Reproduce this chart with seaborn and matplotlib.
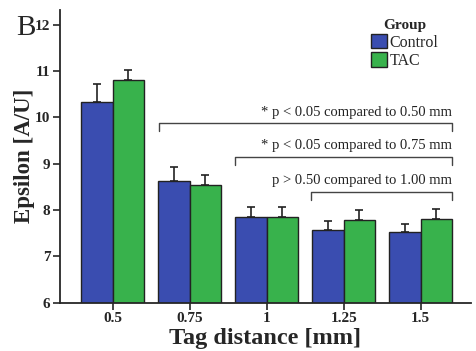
import numpy as np
import pandas as pd
import matplotlib
matplotlib.use('Agg')
import matplotlib.pyplot as plt
import seaborn as sns

# data
distances = ['0.5', '0.75', '1', '1.25', '1.5']
control_mean = [10.33, 8.63, 7.84, 7.57, 7.52]
control_err = [0.38, 0.30, 0.22, 0.20, 0.18]
tac_mean = [10.81, 8.54, 7.84, 7.78, 7.80]
tac_err = [0.22, 0.21, 0.22, 0.21, 0.21]
groups = ['Control', 'TAC']
colors = ['#3A4DB0', '#38B24C']

# bracket annotations: (left category, right category, y, label)
brackets = [
    (0.6, 4.41, 9.87, '* p < 0.05 compared to 0.50 mm'),
    (1.59, 4.41, 9.15, '* p < 0.05 compared to 0.75 mm'),
    (2.58, 4.41, 8.39, 'p > 0.50 compared to 1.00 mm'),
]

sns.set_style('ticks')
plt.rcParams['font.family'] = ['Liberation Serif', 'DejaVu Serif']

df = pd.DataFrame({
    'dist': distances * 2,
    'eps': control_mean + tac_mean,
    'Group': ['Control'] * 5 + ['TAC'] * 5,
})

fig = plt.figure(figsize=(4.76, 3.51), dpi=100)
ax = fig.add_axes([0.126, 0.138, 0.863, 0.834])
sns.barplot(data=df, x='dist', y='eps', hue='Group', order=distances,
            hue_order=groups, palette=colors, errorbar=None, width=0.82,
            edgecolor='#222222', linewidth=1.0, saturation=1, ax=ax)

# upper-only error bars
for cont, errs in zip(ax.containers, [control_err, tac_err]):
    for bar, e in zip(cont, errs):
        xc = bar.get_x() + bar.get_width() / 2
        h = bar.get_height()
        ax.errorbar(xc, h, yerr=[[0], [e]], fmt='none', ecolor='#222222',
                    elinewidth=1.2, capsize=3, capthick=1.2, zorder=3)

for x0, x1, y, lab in brackets:
    ax.plot([x0, x0, x1, x1], [y - 0.17, y, y, y - 0.17], color='#444444', lw=1.0, clip_on=False)
    ax.text(x1, y + 0.1, lab, ha='right', va='bottom', fontsize=10.5, color='#222222')

ax.set_ylim(6, 12.32)
ax.set_xlim(-0.684, 4.65)
ax.set_yticks([6, 7, 8, 9, 10, 11, 12])
ax.tick_params(axis='both', direction='out', length=5, width=1.2, labelsize=11, pad=2)
for t in ax.get_xticklabels() + ax.get_yticklabels():
    t.set_fontweight('bold')
ax.set_xlabel('Tag distance [mm]', fontsize=17.5, fontweight='bold', labelpad=2)
ax.set_ylabel('Epsilon [A/U]', fontsize=16.5, fontweight='bold', labelpad=0)
sns.despine(ax=ax)
for s in ['left', 'bottom']:
    ax.spines[s].set_linewidth(1.3)

leg = ax.legend(title='Group', loc='upper right', bbox_to_anchor=(0.945, 1.0),
                frameon=False, fontsize=11.5, handlelength=1.0, handleheight=1.0,
                handletextpad=0.2, labelspacing=0.1, borderaxespad=0.2)
leg.get_title().set_fontweight('bold')
leg.get_title().set_fontsize(11)

fig.text(0.035, 0.9, 'B', fontsize=21)

fig.savefig('out.png', dpi=100)
